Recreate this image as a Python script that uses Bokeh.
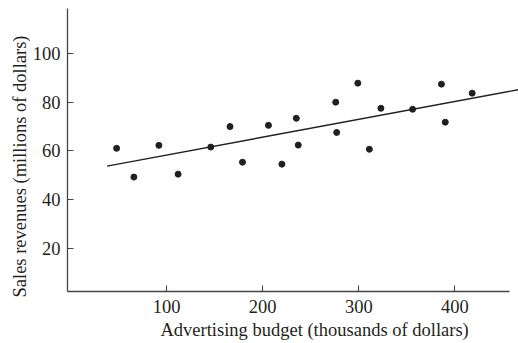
from bokeh.plotting import figure
from bokeh.models import FixedTicker, Range1d, Title
from bokeh.embed import file_html
from bokeh.resources import INLINE

# Data
budget = [48, 66, 92, 112, 146, 166, 179, 206, 220, 235, 237, 276, 277, 299, 311, 323, 356, 386, 390, 418]
revenue = [61.1, 49.3, 62.3, 50.5, 61.6, 70.0, 55.4, 70.5, 54.6, 73.4, 62.4, 80.0, 67.6, 87.8, 60.7, 77.5, 77.1, 87.4, 71.8, 83.7]
fit_x = [38, 466]
fit_y = [53.8, 85.1]
x_ticks = [100, 200, 300, 400]
y_ticks = [20, 40, 60, 80, 100]
x_title = "Advertising budget (thousands of dollars)"
y_title = "Sales revenues (millions of dollars)"

INK = "#231f20"
AXIS = "#444444"
FONT = "Liberation Serif"
FS = "18.5px"

X0, X1, XEND = -3.1, 466.2, 456.9
Y0, Y1 = 2.4, 118.4

p = figure(width=518, height=343, output_backend="svg", toolbar_location=None,
           x_range=Range1d(X0, X1), y_range=Range1d(Y0, Y1),
           min_border_left=67, min_border_right=0, min_border_top=8, min_border_bottom=52)
p.outline_line_color = None
p.xgrid.visible = False
p.ygrid.visible = False
p.background_fill_color = "white"
p.border_fill_color = "white"

p.line(fit_x, fit_y, line_color=INK, line_width=1.4)
p.scatter(budget, revenue, size=6, fill_color=INK, line_color=INK)

for ax in (p.xaxis[0], p.yaxis[0]):
    ax.axis_line_color = AXIS
    ax.axis_line_width = 1.3
    ax.major_tick_line_color = AXIS
    ax.major_tick_line_width = 1.1
    ax.major_tick_in = 6
    ax.major_tick_out = 0
    ax.minor_tick_line_color = None
    ax.major_label_text_font = FONT
    ax.major_label_text_font_size = FS
    ax.major_label_text_color = INK

p.xaxis.ticker = FixedTicker(ticks=x_ticks)
p.yaxis.ticker = FixedTicker(ticks=y_ticks)
p.xaxis.bounds = (X0, XEND)
p.xaxis.major_label_standoff = 8
p.yaxis.major_label_standoff = 7

# axis titles (off-centre in the reference, so placed as side titles)
p.add_layout(Title(text=x_title, align="left", offset=93, standoff=5,
                   text_font=FONT, text_font_size=FS, text_font_style="normal",
                   text_color=INK), "below")
p.add_layout(Title(text=y_title, align="left", offset=-6, standoff=0,
                   text_font=FONT, text_font_size=FS, text_font_style="normal",
                   text_color=INK), "left")

open("out.html", "w").write(file_html(p, INLINE))
